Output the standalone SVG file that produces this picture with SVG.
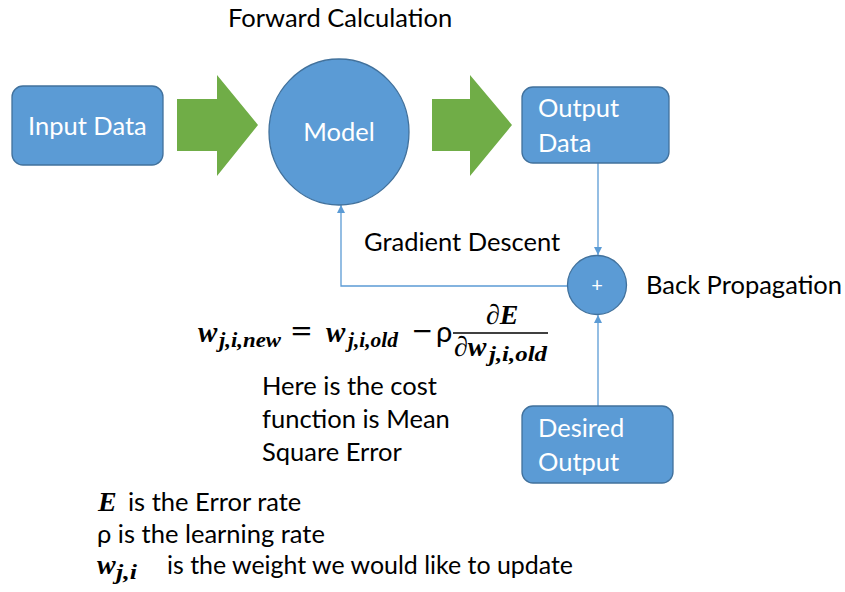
<svg xmlns="http://www.w3.org/2000/svg" width="845" height="592" viewBox="0 0 845 592">
  <defs>
    <style>
      .node { fill: #5B9BD5; stroke: #41719C; stroke-width: 1.3; }
      .flow { fill: #70AD47; }
      .link { fill: none; stroke: #5B9BD5; stroke-width: 1.3; }
      .lbl { font-family: Lato, "Liberation Sans", sans-serif; font-size: 25.5px; fill: #000; }
      .wlbl { font-family: Lato, "Liberation Sans", sans-serif; font-size: 25.5px; fill: #fff; }
      .math { font-family: "Liberation Serif", "DejaVu Serif", serif; font-style: italic; font-weight: bold; fill: #000; }
      .up { font-family: "Liberation Serif", "DejaVu Serif", serif; fill: #000; }
    </style>
    <marker id="tip" viewBox="0 0 10 10" refX="10" refY="5" markerWidth="8" markerHeight="8" markerUnits="userSpaceOnUse" orient="auto">
      <path d="M0,0 L10,5 L0,10 z" fill="#5B9BD5"/>
    </marker>
  </defs>

  <rect width="845" height="592" fill="#fff"/>

  <!-- connectors -->
  <g id="connectors">
    <line class="link" x1="598" y1="163" x2="598" y2="255" marker-end="url(#tip)"/>
    <line class="link" x1="598" y1="406" x2="598" y2="315" marker-end="url(#tip)"/>
    <polyline class="link" points="568,286 341,286 341,205" marker-end="url(#tip)"/>
    <!-- block arrows of the forward pass -->
    <polygon class="flow" points="177,99 217,99 217,75 258,125 217,176 217,151 177,151"/>
    <polygon class="flow" points="432,99 470,99 470,75 512,125 470,176 470,151 432,151"/>
  </g>

  <g id="input-data">
    <rect class="node" x="12" y="86" width="151" height="79" rx="11"/>
    <text class="wlbl" x="28" y="135">Input Data</text>
  </g>

  <g id="model">
    <ellipse class="node" cx="339" cy="132" rx="70" ry="73"/>
    <text class="wlbl" x="339" y="141" text-anchor="middle">Model</text>
  </g>

  <g id="output-data">
    <rect class="node" x="522" y="87" width="147" height="76" rx="11"/>
    <text class="wlbl" x="538" y="117">Output</text>
    <text class="wlbl" x="538" y="152">Data</text>
  </g>

  <g id="sum">
    <circle class="node" cx="597" cy="285" r="29.5"/>
    <text x="597" y="292" text-anchor="middle" font-family="Lato, sans-serif" font-size="20" fill="#fff">+</text>
  </g>

  <g id="desired-output">
    <rect class="node" x="522" y="406" width="151" height="77" rx="11"/>
    <text class="wlbl" x="538" y="437">Desired</text>
    <text class="wlbl" x="538" y="471">Output</text>
  </g>

  <!-- captions -->
  <g id="captions">
    <text class="lbl" x="228" y="27">Forward Calculation</text>
    <text class="lbl" x="364" y="251">Gradient Descent</text>
    <text class="lbl" x="646" y="294">Back Propagation</text>
    <text class="lbl" x="262" y="395">Here is the cost</text>
    <text class="lbl" x="262" y="428">function is Mean</text>
    <text class="lbl" x="262" y="461">Square Error</text>
  </g>

  <!-- weight update rule -->
  <g id="update-rule">
    <text class="math" x="198" y="342" font-size="29">w</text>
    <text class="math" x="219" y="347" font-size="20" textLength="62" lengthAdjust="spacingAndGlyphs">j,i,new</text>
    <text class="up" x="291" y="342" font-size="32" font-weight="bold" textLength="21" lengthAdjust="spacingAndGlyphs">=</text>
    <text class="math" x="326" y="342" font-size="29">w</text>
    <text class="math" x="348" y="347" font-size="20" textLength="50" lengthAdjust="spacingAndGlyphs">j,i,old</text>
    <text class="up" x="412" y="342" font-size="32" font-weight="bold" textLength="20" lengthAdjust="spacingAndGlyphs">−</text>
    <text x="436" y="342" font-family="Lato, sans-serif" font-size="29" fill="#000">ρ</text>
    <text class="math" x="486" y="324" font-size="28">∂E</text>
    <line x1="453" y1="333" x2="548" y2="333" stroke="#000" stroke-width="1.6"/>
    <text class="math" x="454" y="356" font-size="28">∂w</text>
    <text class="math" x="489" y="361" font-size="20" textLength="58" lengthAdjust="spacingAndGlyphs">j,i,old</text>
  </g>

  <!-- symbol legend -->
  <g id="legend">
    <text class="math" x="98" y="511" font-size="28">E</text>
    <text class="lbl" x="128" y="511">is the Error rate</text>
    <text class="lbl" x="97" y="543">ρ is the learning rate</text>
    <text class="math" x="97" y="574" font-size="28">w</text>
    <text class="math" x="116" y="579" font-size="20" textLength="21" lengthAdjust="spacingAndGlyphs">j,i</text>
    <text class="lbl" x="167" y="574" textLength="406" lengthAdjust="spacingAndGlyphs">is the weight we would like to update</text>
  </g>
</svg>
